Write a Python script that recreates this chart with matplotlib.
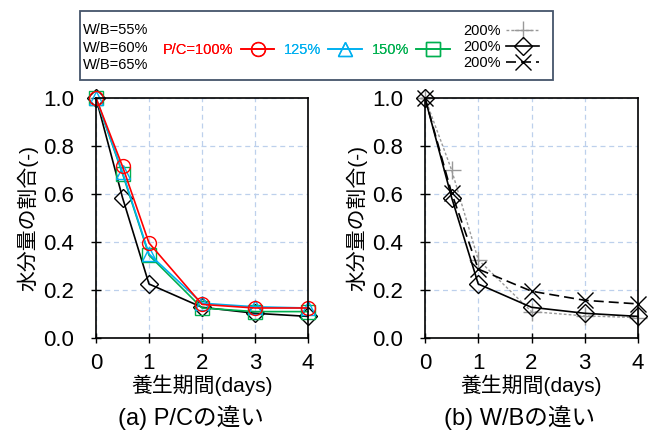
import numpy as np
import matplotlib
matplotlib.use('Agg')
from matplotlib import pyplot as plt
from matplotlib.patches import Rectangle

plt.rcParams['font.family'] = ['Liberation Sans', 'Noto Sans CJK JP']

# data
days = [0, 0.5, 1, 2, 3, 4]
pc100 = [1.0, 0.715, 0.396, 0.140, 0.125, 0.125]
pc125 = [1.0, 0.690, 0.350, 0.145, 0.130, 0.125]
pc150 = [1.0, 0.685, 0.345, 0.125, 0.110, 0.110]
wb55 = [1.0, 0.700, 0.326, 0.110, 0.092, 0.085]
wb60 = [1.0, 0.585, 0.225, 0.128, 0.103, 0.090]
wb65 = [1.0, 0.604, 0.287, 0.195, 0.157, 0.142]
wb_labels = ['W/B=55%', 'W/B=60%', 'W/B=65%']
x_ticks = [0, 1, 2, 3, 4]
y_ticks = [0.0, 0.2, 0.4, 0.6, 0.8, 1.0]

W, H = 654, 432
fig = plt.figure(figsize=(W / 100, H / 100), dpi=100, facecolor='w')


def px(x0, y0, x1, y1):
    # pixel box -> figure fraction [left, bottom, width, height]
    return [x0 / W, 1 - y1 / H, (x1 - x0) / W, (y1 - y0) / H]


def setup(ax):
    ax.set_xlim(0, 4)
    ax.set_ylim(0, 1)
    ax.set_xticks(x_ticks)
    ax.set_yticks(y_ticks)
    ax.set_yticklabels(['%.1f' % v for v in y_ticks])
    ax.tick_params(direction='inout', length=7, width=1, labelsize=16)
    ax.tick_params(axis='y', pad=12)
    ax.tick_params(axis='x', pad=7)
    ax.grid(True, color='#bdd0ec', linestyle=(0, (4, 3)), linewidth=0.9)
    ax.set_axisbelow(True)
    for s in ax.spines.values():
        s.set_linewidth(1.2)
    ax.set_xlabel('養生期間(days)', fontsize=15, labelpad=1)
    ax.set_ylabel('水分量の割合(-)', fontsize=15, labelpad=4)


mk = dict(markersize=10, fillstyle='none', linewidth=1.2, markeredgewidth=1.0, clip_on=False)

ax1 = fig.add_axes(px(96, 98, 308, 338))
setup(ax1)
l60a, = ax1.plot(days, wb60, color='black', marker='D', **dict(mk, markersize=9))
l150, = ax1.plot(days, pc150, color='#00b050', marker='s', **mk)
l125, = ax1.plot(days, pc125, color='#00b0f0', marker='^', **mk)
l100, = ax1.plot(days, pc100, color='#ff0000', marker='o', **mk)

ax2 = fig.add_axes(px(425, 98, 638, 338))
setup(ax2)
l55, = ax2.plot(days, wb55, color='#999999', marker='+', linestyle=(0, (2, 1.5)),
                **dict(mk, markersize=13, linewidth=1.0))
l60, = ax2.plot(days, wb60, color='black', marker='D', **dict(mk, markersize=9))
l65, = ax2.plot(days, wb65, color='black', marker='x', linestyle=(0, (6, 3)),
                **dict(mk, markersize=11))

fig.text(191 / W, 1 - 418 / H, '(a) P/Cの違い', fontsize=17, ha='center', va='center')
fig.text(520 / W, 1 - 418 / H, '(b) W/Bの違い', fontsize=17, ha='center', va='center')

# legend block
fig.patches.append(Rectangle((80 / W, 1 - 80 / H), 473 / W, 69 / H, transform=fig.transFigure,
                             fill=False, edgecolor='#44546a', linewidth=1.3))
for i, t in enumerate(wb_labels):
    fig.text(83 / W, 1 - (30 + 17.5 * i) / H, t, fontsize=10.5, va='center', ha='left')

leg1 = fig.legend([l100, l125, l150], ['P/C=100%', '125%', '150%'], ncol=3,
                  loc='center left', bbox_to_anchor=(150 / W, 1 - 50 / H),
                  markerfirst=False, frameon=False, fontsize=10.5,
                  handlelength=2.3, handletextpad=0.5, columnspacing=0.65,
                  labelcolor=['#ff0000', '#00b0f0', '#00b050'])
fig.legend([l55, l60, l65], ['200%', '200%', '200%'], loc='center left',
           bbox_to_anchor=(450 / W, 1 - 47 / H), markerfirst=False, frameon=False,
           fontsize=10.5, handlelength=2.2, handletextpad=0.4, labelspacing=0.15)
fig.add_artist(leg1)

plt.savefig('out.png', dpi=100)
